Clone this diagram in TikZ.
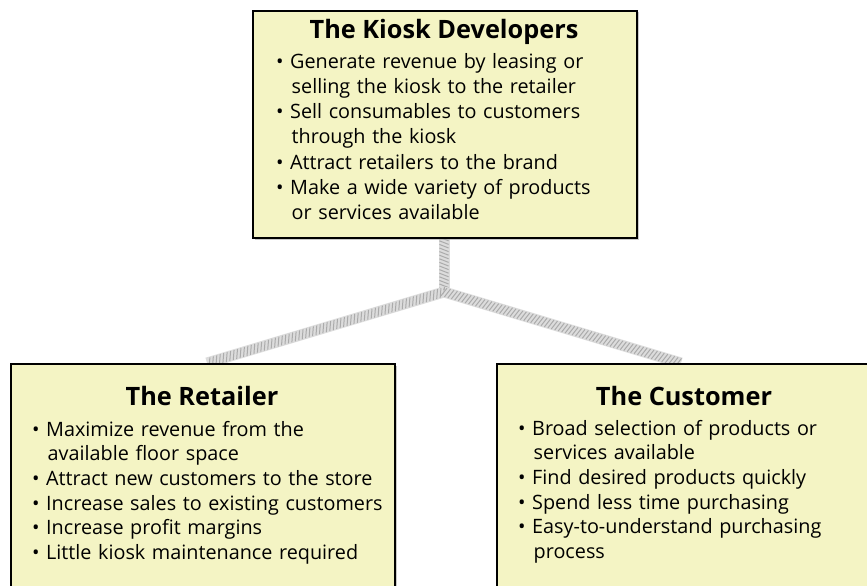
\documentclass[tikz,border=0pt]{standalone}
\usepackage{fontspec}
\setmainfont{Open Sans}
\usetikzlibrary{backgrounds,decorations.markings,shadows}
\definecolor{boxfill}{HTML}{F4F4C4}
\definecolor{ropebg}{HTML}{DCDCDC}
\definecolor{ropeln}{HTML}{ABABAB}
\newcommand{\bul}[1]{\makebox[14pt][l]{•}#1\\}
\newcommand{\cont}[1]{\hspace*{15.5pt}#1\\}
\tikzset{
  box/.style={draw=black, line width=2pt, fill=boxfill, anchor=north west, inner sep=0pt,
    drop shadow={shadow xshift=1.5pt, shadow yshift=-1.5pt, fill=black!35, opacity=0.6}},
  ttl/.style={font=\fontsize{25.3}{30}\selectfont\bfseries, inner sep=0pt, anchor=base},
  txt/.style={anchor=base west, inner sep=0pt, text width=420pt, align=left},
  rope/.style={line width=11pt, draw=ropebg,
    postaction={decorate, decoration={markings, mark=between positions 0 and 1 step 3.6pt with {\draw[ropeln, line width=1pt] (-1.8pt,-4.6pt) -- (1.8pt,4.6pt);}}}}
}
\begin{document}
\begin{tikzpicture}[x=1pt, y=-1pt]
\useasboundingbox (0,0) rectangle (867,586);
% boxes
\node[box, minimum width=384pt, minimum height=227pt] (top) at (252,10) {};
\node[box, minimum width=384pt, minimum height=240pt] (ret) at (10,363) {};
\node[box, minimum width=376pt, minimum height=240pt] (cust) at (496,363) {};
% titles
\node[ttl] (toptitle) at (444,39) {The Kiosk Developers};
\node[ttl] (rettitle) at (202,405) {The Retailer};
\node[ttl] (custtitle) at (684,405) {The Customer};
% bullets
\node[txt, font=\fontsize{19.8}{25.3}\selectfont] (toptext) at (276,68) {%
\bul{Generate revenue by leasing or}
\cont{selling the kiosk to the retailer}
\bul{Sell consumables to customers}
\cont{through the kiosk}
\bul{Attract retailers to the brand}
\bul{Make a wide variety of products}
\cont{or services available}};
\node[txt, font=\fontsize{19.8}{24.7}\selectfont] (rettext) at (32,436) {%
\bul{Maximize revenue from the}
\cont{available floor space}
\bul{Attract new customers to the store}
\bul{Increase sales to existing customers}
\bul{Increase profit margins}
\bul{Little kiosk maintenance required}};
\node[txt, font=\fontsize{19.8}{24.7}\selectfont] (custtext) at (518,435) {%
\bul{Broad selection of products or}
\cont{services available}
\bul{Find desired products quickly}
\bul{Spend less time purchasing}
\bul{Easy-to-understand purchasing}
\cont{process}};
% connectors
\coordinate (j) at (444,292);
\coordinate (rl) at (207,363);
\coordinate (cr) at (681,363);
\begin{scope}[on background layer]
\draw[rope] (j |- top.south) -- (j);
\draw[rope] (j) -- (rl);
\draw[rope] (j) -- (cr);
\end{scope}
\end{tikzpicture}
\end{document}
